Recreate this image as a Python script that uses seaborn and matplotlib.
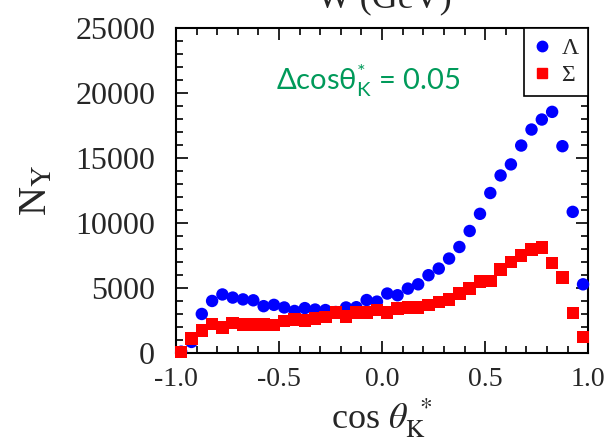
import numpy as np
import pandas as pd
import matplotlib
matplotlib.use("Agg")
import matplotlib.pyplot as plt
from matplotlib.lines import Line2D
from matplotlib.ticker import MultipleLocator
import seaborn as sns

# Angular binning of the kaon in the c.m. frame
bin_width = 0.05
cos_theta = np.round(np.arange(-1.0 + bin_width / 2, 1.0, bin_width), 3)

# Yields per bin
lambda_yield = [100, 850, 3000, 4000, 4500, 4260, 4120, 4050, 3600, 3700,
                3500, 3230, 3450, 3340, 3300, 3150, 3500, 3520, 4070, 3950,
                4570, 4440, 4950, 5280, 5980, 6490, 7260, 8150, 9380, 10700,
                12300, 13650, 14500, 15950, 17180, 17950, 18540, 15900, 10850, 5280]
sigma_yield = [80, 1100, 1720, 2230, 1950, 2300, 2200, 2200, 2200, 2130,
               2460, 2570, 2500, 2640, 2770, 3100, 2820, 3120, 3120, 3300,
               3100, 3410, 3490, 3490, 3670, 3920, 4100, 4570, 4950, 5500,
               5540, 6410, 7000, 7500, 7950, 8100, 6920, 5800, 3080, 1230]

hyperons = ["Λ", "Σ"]
colors = {"Λ": "#0000ff", "Σ": "#ff0000"}
markers = {"Λ": "o", "Σ": "s"}

df = pd.concat([
    pd.DataFrame({"cos": cos_theta, "N": lambda_yield, "Y": "Λ"}),
    pd.DataFrame({"cos": cos_theta, "N": sigma_yield, "Y": "Σ"}),
], ignore_index=True)

sns.set_theme(style="ticks")
plt.rcParams["font.family"] = ["Liberation Serif", "DejaVu Serif"]
plt.rcParams["mathtext.fontset"] = "stix"
# upright sans glyphs for the bin-width annotation
plt.rcParams["mathtext.rm"] = "Lato"
plt.rcParams["mathtext.it"] = "Lato"
plt.rcParams["mathtext.bf"] = "Lato:bold"

fig = plt.figure(figsize=(6.07, 4.42), dpi=100)
ax = fig.add_axes([0.29, 0.2014, 0.679, 0.7356])

sns.scatterplot(data=df, x="cos", y="N", hue="Y", style="Y",
                palette=colors, markers=markers, hue_order=hyperons,
                style_order=hyperons, s=80, linewidth=0, legend=False,
                ax=ax, clip_on=False, zorder=3)

ax.set_xlim(-1.0, 1.0)
ax.set_ylim(0, 25000)
ax.xaxis.set_major_locator(MultipleLocator(0.5))
ax.xaxis.set_minor_locator(MultipleLocator(0.1))
ax.yaxis.set_major_locator(MultipleLocator(5000))
ax.yaxis.set_minor_locator(MultipleLocator(1000))
ax.set_xticks([-1.0, -0.5, 0.0, 0.5, 1.0])
ax.set_xticklabels(["-1.0", "-0.5", "0.0", "0.5", "1.0"])

for sp in ax.spines.values():
    sp.set_linewidth(1.5)
    sp.set_color("black")
ax.tick_params(which="both", direction="in", top=True, right=True,
               color="black", width=1.2)
ax.tick_params(which="major", length=8.5)
ax.tick_params(which="minor", length=5)
ax.tick_params(axis="y", which="major", labelsize=23, pad=15)
ax.tick_params(axis="x", which="major", labelsize=20, pad=10)

ax.set_xlabel(r"cos $\theta_{\mathrm{K}}^{\ *}$", fontsize=26, labelpad=3)
ax.set_ylabel(r"N$_{\mathrm{Y}}$", fontsize=29, labelpad=14)

ax.text(0.466, 0.809, r"Δcosθ$_{K}^{*}$ = 0.05",
        transform=ax.transAxes, ha="center", va="baseline",
        color="#009a5a", fontsize=21, family=["Lato", "DejaVu Sans"],
        math_fontfamily="custom")

handles = [Line2D([], [], ls="none", marker=markers[h], color=colors[h],
                  markersize=7.5, label=h) for h in hyperons]
leg = ax.legend(handles=handles, loc="upper right", borderaxespad=0,
                fontsize=17, frameon=True, fancybox=False, framealpha=1,
                handlelength=0.7, handletextpad=0.5, borderpad=0.4,
                labelspacing=0.25)
leg.get_frame().set_edgecolor("black")
leg.get_frame().set_linewidth(1.2)

fig.text(0.634, 0.984, "W (GeV)", ha="center", va="baseline", fontsize=26)

fig.savefig("out.png", dpi=100, facecolor="white")
